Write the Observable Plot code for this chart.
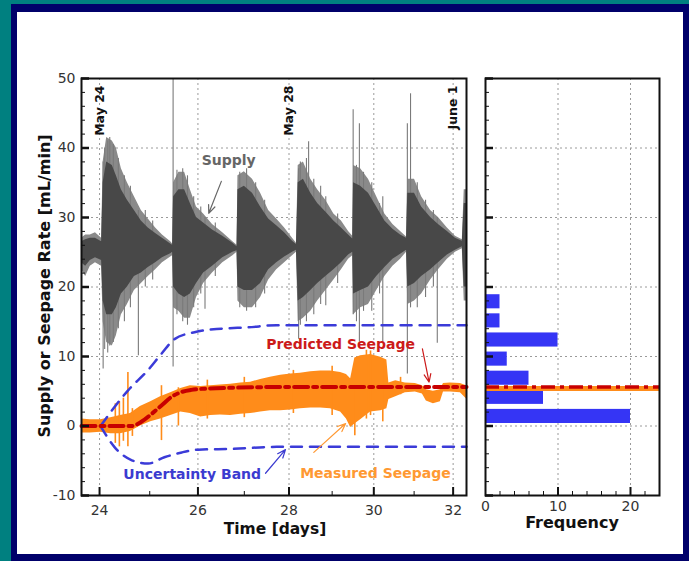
<!DOCTYPE html>
<html>
<head>
<meta charset="utf-8">
<script src="https://cdn.jsdelivr.net/npm/d3@7"></script>
<script src="https://cdn.jsdelivr.net/npm/@observablehq/plot@0.6"></script>
<style>
  body { margin: 0; }
  #page { position: relative; width: 689px; height: 561px; background: #008080; overflow: hidden; font-family: "DejaVu Sans", Verdana, sans-serif; }
  .band { position: absolute; }
  .title { position: absolute; font-weight: bold; white-space: nowrap; color: #111; line-height: 1; }
  #main, #hist { position: absolute; top: 0; }
  #main svg, #hist svg { display: block; }
</style>
</head>
<body>
<div id="page">
  <div class="band" style="left:11px; top:4px; width:678px; height:557px; background:#00006a;"></div>
  <div class="band" style="left:17px; top:12px; width:666px; height:542px; background:#ffffff;"></div>
  <div id="main" style="left:0px;"></div>
  <div id="hist" style="left:470px;"></div>
  <div class="title" style="left:45px; top:286px; font-size:16px; transform: translate(-50%,-50%) rotate(-90deg);">Supply or Seepage Rate [mL/min]</div>
  <div class="title" style="left:275px; top:522px; font-size:15.5px; transform: translateX(-50%);">Time [days]</div>
  <div class="title" style="left:572px; top:515px; font-size:16px; transform: translateX(-50%);">Frequency</div>
</div>
<script>
// ---- Axis ticks and labels ----
const xMajorTicks = [24, 26, 28, 30, 32];
const xMinorTicks = [25, 27, 29, 31];
const yMajorTicks = [-10, 0, 10, 20, 30, 40, 50];
const yMinorTicks = [-8, -6, -4, -2, 2, 4, 6, 8, 12, 14, 16, 18, 22, 24, 26, 28, 32, 34, 36, 38, 42, 44, 46, 48];
const yGridLines = [0, 10, 20, 30, 40];
const dateDays = [24, 28, 32];
const dateLabels = ["May 24", "May 28", "June 1"];

// ---- Supply rate (mL/min): outer envelope and dense core of the noisy record ----
const supplyDay = [23.65, 23.73, 23.82, 23.92, 24.04, 24.07, 24.14, 24.25, 24.33, 24.43, 24.55, 24.69, 24.83, 24.97, 25.12, 25.26, 25.43, 25.47,
  25.49, 25.60, 25.72, 25.84, 25.97, 26.12, 26.31, 26.53, 26.75, 26.84,
  26.86, 27.00, 27.18, 27.36, 27.54, 27.72, 27.90, 28.08, 28.17,
  28.21, 28.33, 28.50, 28.66, 28.85, 29.04, 29.22, 29.39, 29.49,
  29.51, 29.68, 29.87, 30.07, 30.27, 30.47, 30.66, 30.81,
  30.84, 31.01, 31.19, 31.42, 31.62, 31.85, 32.06, 32.24, 32.29, 32.35];
const supplyLow = [22.5, 21.5, 23.0, 23.5, 23.0, 15, 12, 11.5, 13, 16, 17.5, 19.5, 20.5, 21.5, 22.5, 23.5, 24.3, 24.5,
  17, 16.5, 15.5, 15.5, 18.5, 20.5, 22, 23.5, 24.5, 25,
  18, 17, 17, 18.5, 21, 22.5, 23.5, 24.5, 25,
  15, 15.5, 16.5, 18, 19.5, 21, 22.5, 24, 24.5,
  16, 17, 17.5, 19.5, 21.5, 23, 24, 25,
  17.5, 18, 19, 21, 22.5, 24, 25, 25.5, 18, 18];
const supplyHigh = [27.0, 27.5, 27.5, 27.8, 27.0, 38, 41.5, 41, 40, 37, 35, 33, 31, 29.8, 28.5, 27.5, 26.5, 26.2,
  35, 36.5, 36.5, 34, 31.5, 30.5, 29, 27.8, 26.5, 26,
  36, 36.6, 35.5, 33.5, 31, 29.8, 28.5, 27, 26.3,
  37.5, 38, 35.5, 34, 32.5, 30.5, 29.5, 28, 27.3,
  37.5, 37, 35.5, 33, 30.5, 29, 28, 27.2,
  35.5, 35.5, 33, 31, 30, 28.5, 27.3, 26.8, 34, 34];
const supplyCoreLow = [23.5, 23.0, 23.8, 24.2, 23.8, 18, 16, 16, 17, 19, 20, 21.5, 22, 22.8, 23.5, 24.2, 24.8, 25,
  20, 19, 18.5, 19, 20.5, 22, 23, 24.2, 25, 25.2,
  20, 19.5, 19.5, 20.5, 22.5, 23.5, 24.3, 25, 25.3,
  18, 18.5, 19.5, 20.5, 21.5, 22.5, 23.5, 24.6, 25,
  19, 19.5, 20, 21.5, 22.8, 24, 24.7, 25.3,
  20, 20.5, 21.5, 22.5, 23.5, 24.6, 25.3, 25.8, 20, 20];
const supplyCoreHigh = [26.5, 26.8, 27.0, 27.0, 26.5, 35, 38, 37.5, 36, 34, 32.5, 31, 29.5, 28.5, 27.7, 27, 26.2, 26,
  33, 34, 34, 32, 30, 29.2, 28.2, 27.3, 26.3, 25.8,
  34, 34.5, 33.5, 31.5, 29.8, 28.8, 27.8, 26.6, 26.1,
  35, 35.5, 33.5, 32, 30.8, 29.5, 28.5, 27.5, 26.9,
  35, 34.5, 33.5, 31.5, 29.5, 28.3, 27.5, 27,
  33.5, 33.5, 31.5, 30, 29, 28, 27, 26.6, 32, 32];

// Isolated supply spikes and light streaks at the edge of each burst
const supplySpikeDay = [24.07, 24.10, 24.16, 24.20, 24.27, 24.37, 24.49, 24.61, 24.77, 24.91, 25.06,
  25.48, 25.56, 25.68, 25.78, 25.91, 26.06, 26.15, 26.37,
  26.90, 27.05, 27.25, 27.45,
  28.22, 28.26, 28.40, 28.45, 28.57, 28.73, 28.85, 29.13,
  29.50, 29.58, 29.65, 29.75, 29.95, 30.14, 30.22,
  30.83, 30.91, 31.08, 31.29, 31.49, 31.59];
const supplySpikeLow = [8.2, 11, 10.5, 11.5, 12, 14, 15, 17, 10.1, 20, 21,
  8.5, 16, 15, 14.5, 17, 19, 16.8, 21.5,
  17, 16.5, 17, 19,
  12.5, 14.5, 15, 25, 16, 17.5, 17.3, 20.5,
  16, 15, 12.1, 16.5, 16.5, 19, 12.1,
  7.5, 17, 17, 18.5, 20, 11.9];
const supplySpikeHigh = [38, 40, 41, 41.5, 40.5, 38.5, 36, 34.5, 31, 31, 29.5,
  50, 36.8, 37, 36, 33, 31.5, 30, 29.2,
  36.5, 37, 35, 32.5,
  37, 38, 38.5, 40.9, 35.5, 34.5, 33, 30.5,
  45.5, 37.5, 43.5, 36.5, 35, 32, 33,
  43.5, 47.8, 35, 32.5, 31, 30];

// ---- Measured seepage: low/high envelope (mL/min) ----
const seepDay = [23.65, 23.82, 24.02, 24.22, 24.41, 24.61, 24.81, 25.02, 25.22, 25.43, 25.64, 25.84, 26.06, 26.27, 26.48, 26.70, 26.92,
  27.14, 27.36, 27.58, 27.81, 28.04, 28.26, 28.50, 28.73, 28.96, 29.20, 29.34, 29.44, 29.54, 29.68, 29.92, 30.17, 30.32,
  30.37, 30.54, 30.78, 31.03, 31.21, 31.31, 31.49, 31.67, 31.75, 31.93, 32.19, 32.35];
const seepLow = [-1.0, -1.0, -0.9, -1.1, -1.1, -0.8, 0.0, 0.6, 1.0, 1.5, 2.0, 1.8, 1.3, 1.5, 1.6, 1.5, 1.7,
  1.8, 2.0, 2.2, 2.2, 2.3, 2.5, 2.6, 2.6, 2.5, 2.0, 1.0, -0.2, 0.3, 0.9, 2.0, 2.2, 2.5,
  3.8, 4.2, 4.8, 4.9, 4.6, 3.6, 3.2, 3.5, 4.9, 4.9, 4.8, 3.9];
const seepHigh = [1.0, 0.9, 0.9, 1.2, 1.5, 1.8, 2.8, 3.5, 4.2, 4.8, 5.4, 5.8, 5.7, 5.8, 5.9, 6.0, 6.2,
  6.3, 6.7, 7.0, 7.3, 7.5, 7.6, 7.8, 7.9, 7.9, 7.7, 7.4, 6.8, 9.8, 10.1, 10.3, 9.9, 9.5,
  6.2, 6.5, 6.2, 6.1, 5.8, 5.2, 5.0, 5.2, 6.1, 6.2, 6.1, 5.8];

// Isolated seepage spikes
const seepSpikeDay = [24.31, 24.39, 24.47, 24.56, 24.65, 25.24, 25.59, 26.2, 27.0, 28.1, 29.0, 29.54, 29.82, 29.92, 30.22, 30.66];
const seepSpikeLow = [-2.5, -3.0, -2.2, -3.0, -1.5, -2.1, 0.0, 1.0, 1.2, 1.8, 1.5, -1.4, 1.0, 1.5, 0.6, 4.5];
const seepSpikeHigh = [3.2, 3.5, 4.0, 7.7, 2.5, 5.8, 5.5, 6.6, 7.0, 8.0, 8.6, 6.0, 10.9, 10.8, 9.5, 7.0];

// ---- Model prediction and its uncertainty band ----
const predDay = [23.65, 24.63, 24.83, 25.04, 25.24, 25.45, 25.66, 25.86, 26.23, 26.73, 27.55, 28.5, 30.0, 31.0, 32.35];
const predRate = [0, 0, 0.6, 1.75, 2.95, 4.2, 4.9, 5.2, 5.4, 5.5, 5.6, 5.6, 5.6, 5.6, 5.6];
const upperDay = [24.02, 24.29, 24.56, 24.96, 25.24, 25.51, 25.93, 26.50, 27.09, 27.72, 29.0, 30.5, 32.35];
const upperRate = [0, 2.7, 5.1, 8.0, 10.4, 12.5, 13.5, 14.0, 14.2, 14.5, 14.5, 14.5, 14.5];
const lowerDay = [24.02, 24.29, 24.63, 24.97, 25.30, 25.66, 26.01, 26.73, 27.72, 29.0, 30.5, 32.35];
const lowerRate = [0, -3.0, -4.9, -5.4, -4.5, -3.8, -3.4, -3.3, -3.0, -3.0, -3.0, -3.0];

// ---- Histogram of seepage rate ----
const histEdges = [0, 2.75, 5.5, 8.25, 11, 13.75, 16.5, 19.25];
const histCounts = [20, 8, 6, 3, 10, 2, 2];
const histXMajor = [0, 10, 20];
const histXMinor = [2, 4, 6, 8, 12, 14, 16, 18, 22];
const measuredFinal = 5.4;
const predictedFinal = 5.6;

// ---- tables for the marks ----
const supply = supplyDay.map((day, i) => ({day, low: supplyLow[i], high: supplyHigh[i], coreLow: supplyCoreLow[i], coreHigh: supplyCoreHigh[i]}));
const supplySpikes = supplySpikeDay.map((day, i) => ({day, low: supplySpikeLow[i], high: supplySpikeHigh[i]}));
const seepage = seepDay.map((day, i) => ({day, low: seepLow[i], high: seepHigh[i]}));
const seepSpikes = seepSpikeDay.map((day, i) => ({day, low: seepSpikeLow[i], high: seepSpikeHigh[i]}));
const predicted = predDay.map((day, i) => ({day, rate: predRate[i]}));
const upper = upperDay.map((day, i) => ({day, rate: upperRate[i]}));
const lower = lowerDay.map((day, i) => ({day, rate: lowerRate[i]}));
const bins = histCounts.map((count, i) => ({lo: histEdges[i], hi: histEdges[i + 1], count}));

const font = "DejaVu Sans, Verdana, sans-serif";
const gridStyle = {stroke: "#9a9a9a", strokeDasharray: "2,3", strokeWidth: 1};
const orange = "#ff8c1a";
const red = "#c80000";
const blue = "#3b3bd8";

// Main panel geometry
const mainW = 470, mainH = 561;
const mL = 81, mR = 4, mT = 78, mB = 66;
const innerW = mainW - mL - mR, innerH = mainH - mT - mB;

const main = Plot.plot({
  width: mainW, height: mainH,
  marginLeft: mL, marginRight: mR, marginTop: mT, marginBottom: mB,
  style: {background: "transparent", fontFamily: font, overflow: "visible"},
  x: {type: "log", domain: [23.65, 32.35]},
  y: {domain: [-10, 50]},
  marks: [
    Plot.ruleX(xMajorTicks, gridStyle),
    Plot.ruleY(yGridLines, gridStyle),
    Plot.areaY(supply, {x: "day", y1: "low", y2: "high", fill: "#8a8a8a"}),
    Plot.ruleX(supplySpikes, {x: "day", y1: "low", y2: "high", stroke: "#7a7a7a", strokeWidth: 1.1}),
    Plot.areaY(supply, {x: "day", y1: "coreLow", y2: "coreHigh", fill: "#484848"}),
    Plot.areaY(seepage, {x: "day", y1: "low", y2: "high", fill: orange}),
    Plot.ruleX(seepSpikes, {x: "day", y1: "low", y2: "high", stroke: orange, strokeWidth: 1.6}),
    Plot.line(upper, {x: "day", y: "rate", stroke: blue, strokeWidth: 2.5, strokeDasharray: "11,8", curve: "monotone-x"}),
    Plot.line(lower, {x: "day", y: "rate", stroke: blue, strokeWidth: 2.5, strokeDasharray: "11,8", curve: "monotone-x"}),
    Plot.line(predicted, {x: "day", y: "rate", stroke: red, strokeWidth: 4, strokeDasharray: "14,5,4,5", curve: "monotone-x"}),
    Plot.text(dateLabels, {x: (d, i) => dateDays[i], y: 49, text: d => d, rotate: -90, textAnchor: "end", lineAnchor: "middle", fontWeight: "bold", fontSize: 12.5, fill: "#111"}),
    // annotations
    Plot.text(["Supply"], {x: 26.66, y: 38.2, text: d => d, fill: "#666", fontWeight: "bold", fontSize: 14}),
    Plot.arrow([0], {x1: 26.5, y1: 35.2, x2: 26.23, y2: 30.6, stroke: "#666", strokeWidth: 1.2, headLength: 11, headAngle: 45}),
    Plot.text(["Predicted Seepage"], {x: 29.2, y: 11.7, text: d => d, fill: "#cc1a1a", fontWeight: "bold", fontSize: 14}),
    Plot.arrow([0], {x1: 31.21, y1: 11.1, x2: 31.38, y2: 6.3, stroke: "#cc1a1a", strokeWidth: 1.2, headLength: 11, headAngle: 45}),
    Plot.text(["Uncertainty Band"], {x: 25.88, y: -6.95, text: d => d, fill: "#3b3bd0", fontWeight: "bold", fontSize: 14}),
    Plot.arrow([0], {x1: 27.47, y1: -6.8, x2: 27.92, y2: -3.4, stroke: "#3b3bd0", strokeWidth: 1.2, headLength: 11, headAngle: 45}),
    Plot.text(["Measured Seepage"], {x: 30.04, y: -6.9, text: d => d, fill: "#ff9933", fontWeight: "bold", fontSize: 14}),
    Plot.arrow([0], {x1: 28.57, y1: -3.8, x2: 29.32, y2: 0.35, stroke: "#ff9933", strokeWidth: 1.2, headLength: 11, headAngle: 45}),
    Plot.frame({stroke: "#111", strokeWidth: 2}),
    Plot.tickX(xMajorTicks, {insetTop: innerH - 8, stroke: "#111", strokeWidth: 2}),
    Plot.tickX(xMinorTicks, {insetTop: innerH - 4, stroke: "#111", strokeWidth: 1}),
    Plot.tickY(yMajorTicks, {insetRight: innerW - 8, stroke: "#111", strokeWidth: 2.5}),
    Plot.tickY(yMinorTicks, {insetRight: innerW - 4, stroke: "#111", strokeWidth: 1}),
    Plot.axisX({ticks: xMajorTicks, tickSize: 0, tickPadding: 10, tickFormat: d => String(d), fontSize: 14, fill: "#333", label: null}),
    Plot.axisY({ticks: yMajorTicks, tickSize: 0, tickPadding: 6, tickFormat: d => String(d), fontSize: 14, fill: "#333", label: null})
  ]
});
document.getElementById("main").appendChild(main);

// Histogram panel geometry
const histW = 219;
const hL = 15, hR = 30;
const histInnerW = histW - hL - hR;

const hist = Plot.plot({
  width: histW, height: mainH,
  marginLeft: hL, marginRight: hR, marginTop: mT, marginBottom: mB,
  style: {background: "transparent", fontFamily: font, overflow: "visible"},
  x: {domain: [0, 24]},
  y: {domain: [-10, 50]},
  marks: [
    Plot.ruleX([10, 20], gridStyle),
    Plot.ruleY(yGridLines, gridStyle),
    Plot.rectX(bins, {x: "count", y1: "lo", y2: "hi", fill: "#3535f5", insetTop: 2.5, insetBottom: 2.5}),
    Plot.ruleY([measuredFinal], {stroke: orange, strokeWidth: 5}),
    Plot.ruleY([predictedFinal], {stroke: red, strokeWidth: 3.5, strokeDasharray: "14,5,4,5"}),
    Plot.frame({stroke: "#111", strokeWidth: 2}),
    Plot.tickX([10, 20], {insetTop: innerH - 8, stroke: "#111", strokeWidth: 2}),
    Plot.tickX(histXMinor, {insetTop: innerH - 4, stroke: "#111", strokeWidth: 1}),
    Plot.tickY(yMajorTicks, {insetRight: histInnerW - 8, stroke: "#111", strokeWidth: 2.5}),
    Plot.tickY(yMinorTicks, {insetRight: histInnerW - 4, stroke: "#111", strokeWidth: 1}),
    Plot.axisX({ticks: histXMajor, tickSize: 0, tickPadding: 6, tickFormat: d => String(d), fontSize: 14, fill: "#333", label: null}),
    Plot.axisY({ticks: [], tickSize: 0, label: null})
  ]
});
document.getElementById("hist").appendChild(hist);
</script>
</body>
</html>
